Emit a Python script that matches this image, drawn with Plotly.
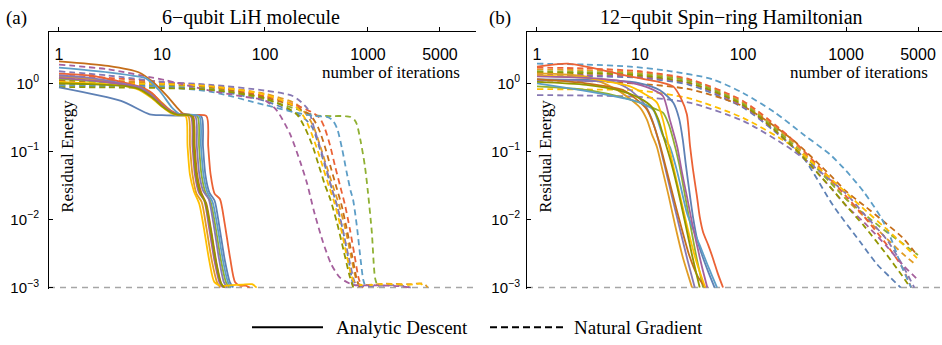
import plotly.graph_objects as go

# ---------------- palette (Mathematica default) ----------------
C_BLUE = '#5E81B5'
C_ORANGE = '#E19C24'
C_GREEN = '#8FB032'
C_RED = '#EB6235'
C_PURPLE = '#8778B3'
C_BROWN = '#C56E1A'
C_LIGHTBLUE = '#5D9EC7'
C_YELLOW = '#FFBF00'
C_MAGENTA = '#A5609D'
C_OLIVE = '#929600'

THRESHOLD = 0.001

X_TICKS = [1, 10, 100, 1000, 5000]
X_TICK_TEXT = ['1', '10', '100', '1000', '5000']
Y_TICKS = [1, 0.1, 0.01, 0.001]
Y_TICK_TEXT = ['10<sup>0</sup>', '10<sup>\u22121</sup>', '10<sup>\u22122</sup>', '10<sup>\u22123</sup>']

# ================= Panel (a): 6-qubit LiH, Analytic Descent (solid) =================
a_ad_yellow_x = [1, 2, 4, 6, 8, 10, 12, 14, 17, 17.7, 18.7, 20.4, 23, 25.5, 28.9, 32.3, 38, 45, 60, 75, 83]
a_ad_yellow_y = [1.05, 1.0, 0.93, 0.8, 0.6, 0.45, 0.37, 0.34, 0.33, 0.12, 0.045, 0.026, 0.017, 0.0075, 0.0024, 0.0012, 0.00106, 0.00108, 0.0011, 0.00112, 0.001]
a_ad_orange_x = [1, 2, 4, 6, 8, 10, 12, 14, 18, 18.7, 19.8, 21.6, 24.3, 27, 30.6, 34.2, 36.9]
a_ad_orange_y = [1.25, 1.15, 0.98, 0.86, 0.7, 0.52, 0.4, 0.35, 0.33, 0.12, 0.045, 0.024, 0.018, 0.0075, 0.0024, 0.0012, 0.001]
a_ad_magenta_x = [1, 2, 4, 6, 8, 10, 12, 14, 19, 19.8, 20.9, 22.8, 25.7, 28.5, 32.3, 36.1, 39]
a_ad_magenta_y = [1.2, 1.1, 0.96, 0.84, 0.64, 0.48, 0.39, 0.35, 0.33, 0.12, 0.045, 0.025, 0.019, 0.008, 0.0025, 0.0012, 0.001]
a_ad_olive_x = [1, 2, 4, 6, 8, 10, 12, 14, 19.5, 20.3, 21.5, 23.4, 26.3, 29.3, 33.2, 37, 40]
a_ad_olive_y = [1.0, 0.97, 0.92, 0.82, 0.62, 0.46, 0.38, 0.345, 0.33, 0.12, 0.045, 0.025, 0.018, 0.008, 0.0025, 0.0012, 0.001]
a_ad_brown_x = [1, 3, 6, 8, 11, 14, 16, 20, 20.8, 22, 24, 27, 30, 34, 38, 41]
a_ad_brown_y = [2.1, 1.8, 1.44, 1.07, 0.67, 0.44, 0.36, 0.33, 0.12, 0.045, 0.025, 0.017, 0.007, 0.0022, 0.0011, 0.001]
a_ad_purple_x = [1, 2, 4, 6, 8, 10, 12, 14, 21, 21.8, 23.1, 25.2, 28.4, 31.5, 35.7, 39.9, 43]
a_ad_purple_y = [1.3, 1.2, 1.0, 0.88, 0.66, 0.47, 0.38, 0.345, 0.33, 0.12, 0.045, 0.026, 0.02, 0.009, 0.0027, 0.0012, 0.001]
a_ad_green_x = [1, 2, 4, 6, 8, 10, 12, 14, 22, 22.9, 24.2, 26.4, 29.7, 33, 37.4, 41.8, 45.1]
a_ad_green_y = [1.15, 1.08, 0.97, 0.86, 0.68, 0.5, 0.4, 0.35, 0.33, 0.12, 0.045, 0.025, 0.018, 0.008, 0.0025, 0.0012, 0.001]
a_ad_lightblue_x = [1, 3, 6, 7, 9.5, 12.5, 15, 23, 23.9, 25.3, 27.6, 31, 34.5, 39.1, 43.7, 47.2]
a_ad_lightblue_y = [1.7, 1.45, 1.25, 1.18, 0.77, 0.44, 0.35, 0.33, 0.12, 0.045, 0.025, 0.018, 0.008, 0.0025, 0.0012, 0.001]
a_ad_blue_x = [1, 4, 7.6, 10, 15, 24, 25, 26.4, 28.8, 32.4, 36, 40.8, 45.6, 49.2]
a_ad_blue_y = [0.87, 0.55, 0.35, 0.34, 0.335, 0.33, 0.12, 0.045, 0.025, 0.019, 0.008, 0.0025, 0.0012, 0.001]
a_ad_red_x = [1, 2, 4, 6, 8, 10, 12, 14, 18, 27, 28.1, 29.7, 32.4, 36.5, 40.5, 45.9, 51.3, 58, 65, 71]
a_ad_red_y = [1.39, 1.3, 1.05, 0.9, 0.72, 0.5, 0.4, 0.36, 0.34, 0.33, 0.12, 0.045, 0.024, 0.02, 0.009, 0.0027, 0.0012, 0.00106, 0.00107, 0.001]

# ================= Panel (a): Natural Gradient (dashed) =================
a_ng_olive_x = [1, 3, 10, 30, 100, 200, 245, 290, 330, 380, 430, 500, 580, 670, 720]
a_ng_olive_y = [0.88, 0.87, 0.85, 0.8, 0.6, 0.36, 0.22, 0.12, 0.065, 0.033, 0.02, 0.009, 0.0035, 0.0014, 0.001]
a_ng_yellow_x = [1, 3, 10, 30, 100, 200, 240, 270, 320, 370, 420, 470, 540, 620, 700, 760, 1500, 2500, 3300, 3500]
a_ng_yellow_y = [1.0, 1.0, 0.98, 0.9, 0.68, 0.45, 0.32, 0.22, 0.11, 0.055, 0.03, 0.018, 0.008, 0.003, 0.0014, 0.00112, 0.00112, 0.0011, 0.00113, 0.001]
a_ng_purple_x = [1, 3, 10, 30, 100, 186, 260, 300, 340, 390, 440, 500, 570, 650, 730, 780, 2000, 2600]
a_ng_purple_y = [1.5, 1.3, 1.05, 0.95, 0.78, 0.65, 0.42, 0.22, 0.12, 0.06, 0.03, 0.016, 0.007, 0.0028, 0.0013, 0.00108, 0.00108, 0.001]
a_ng_blue_x = [1, 3, 10, 30, 100, 200, 250, 290, 340, 390, 450, 500, 570, 650, 720]
a_ng_blue_y = [0.95, 0.93, 0.9, 0.8, 0.55, 0.36, 0.29, 0.22, 0.11, 0.055, 0.027, 0.016, 0.007, 0.0025, 0.001]
a_ng_orange_x = [1, 3, 10, 30, 100, 200, 260, 300, 350, 400, 460, 520, 600, 680, 760, 820, 1500, 2500, 3500, 3800]
a_ng_orange_y = [1.2, 1.1, 1.02, 0.92, 0.7, 0.5, 0.33, 0.22, 0.11, 0.058, 0.03, 0.017, 0.0075, 0.003, 0.0014, 0.00112, 0.00114, 0.00112, 0.00114, 0.001]
a_ng_brown_x = [1, 3, 10, 30, 100, 200, 280, 330, 380, 430, 490, 550, 620, 700, 780, 830]
a_ng_brown_y = [1.1, 1.05, 0.98, 0.88, 0.62, 0.45, 0.33, 0.22, 0.12, 0.062, 0.031, 0.017, 0.0075, 0.003, 0.0013, 0.001]
a_ng_red_x = [1, 3, 10, 30, 100, 200, 300, 340, 380, 430, 480, 540, 600, 670, 740, 820, 900]
a_ng_red_y = [1.3, 1.2, 1.05, 0.9, 0.65, 0.48, 0.36, 0.31, 0.22, 0.12, 0.06, 0.03, 0.016, 0.007, 0.003, 0.0013, 0.001]
a_ng_lightblue_x = [1, 3, 10, 30, 100, 200, 300, 400, 450, 500, 560, 620, 680, 715, 780, 850, 900, 950]
a_ng_lightblue_y = [0.92, 0.9, 0.88, 0.75, 0.48, 0.37, 0.33, 0.32, 0.29, 0.22, 0.11, 0.05, 0.026, 0.02, 0.008, 0.0025, 0.0013, 0.001]
a_ng_green_x = [1, 3, 10, 30, 100, 200, 300, 450, 600, 680, 740, 780, 850, 935, 1000, 1090, 1170, 1250]
a_ng_green_y = [1.05, 1.0, 0.95, 0.85, 0.58, 0.42, 0.34, 0.33, 0.33, 0.32, 0.29, 0.25, 0.14, 0.06, 0.025, 0.0065, 0.0014, 0.001]
a_ng_magenta_x = [1, 3, 11, 27, 60, 100, 130, 175, 220, 256, 300, 365, 440, 535, 715, 1200, 2000, 2600]
a_ng_magenta_y = [1.88, 1.6, 1.1, 0.8, 0.64, 0.56, 0.4, 0.18, 0.07, 0.034, 0.013, 0.0047, 0.0022, 0.0014, 0.0011, 0.00108, 0.00105, 0.001]

# ================= Panel (b): 12-qubit spin ring, Analytic Descent (solid) =================
b_ad_red_x = [1, 2, 4, 8, 12, 16, 21, 25, 28.5, 30.6, 32.6, 35.7, 38, 41, 46, 51, 57, 64]
b_ad_red_y = [1.76, 1.94, 1.6, 1.26, 1.12, 1.03, 0.9, 0.6, 0.35, 0.12, 0.056, 0.022, 0.011, 0.0065, 0.0042, 0.0027, 0.0016, 0.001]
b_ad_blue_x = [1, 3, 5.5, 10, 15.6, 21, 24, 26, 28, 30.6, 33, 36, 40, 46, 53]
b_ad_blue_y = [1.14, 1.12, 1.1, 1.0, 0.79, 0.52, 0.3, 0.15, 0.06, 0.022, 0.01, 0.005, 0.003, 0.0017, 0.001]
b_ad_magenta_x = [1, 3, 6, 9.3, 13, 16.7, 19.5, 23, 25.5, 28.5, 32, 36, 40, 45]
b_ad_magenta_y = [1.26, 1.2, 1.1, 0.97, 0.82, 0.65, 0.29, 0.116, 0.05, 0.022, 0.009, 0.004, 0.002, 0.001]
b_ad_lightblue_x = [1, 2, 3.8, 7, 10, 13.4, 16.7, 19.5, 23, 28.5, 33, 38, 45, 50, 56]
b_ad_lightblue_y = [1.0, 0.85, 0.72, 0.6, 0.52, 0.41, 0.17, 0.116, 0.05, 0.0126, 0.007, 0.0042, 0.0022, 0.0015, 0.001]
b_ad_green_x = [1, 3, 6, 10, 14, 16.7, 19, 21, 24, 27, 31, 35, 41]
b_ad_green_y = [0.9, 0.8, 0.65, 0.52, 0.42, 0.37, 0.25, 0.15, 0.065, 0.025, 0.008, 0.003, 0.001]
b_ad_yellow_x = [1, 3, 5, 8, 11, 14.6, 16.7, 19, 22, 26, 30, 35, 43]
b_ad_yellow_y = [1.3, 1.2, 1.05, 0.9, 0.7, 0.52, 0.29, 0.12, 0.045, 0.015, 0.006, 0.0025, 0.001]
b_ad_orange_x = [1, 3, 6, 10, 11.7, 13, 14.6, 16.7, 19, 22, 26, 32]
b_ad_orange_y = [1.4, 1.25, 0.8, 0.44, 0.29, 0.18, 0.116, 0.05, 0.022, 0.008, 0.0028, 0.001]
b_ad_purple_x = [1, 2, 3, 5.5, 8, 11, 13, 15, 17, 20, 24, 29, 34]
b_ad_purple_y = [1.1, 1.1, 1.08, 1.05, 0.8, 0.5, 0.3, 0.15, 0.07, 0.025, 0.008, 0.0025, 0.001]
b_ad_brown_x = [1, 3, 6.8, 9, 11.7, 13.5, 15.5, 18, 21, 25, 30, 36, 43]
b_ad_brown_y = [1.15, 1.0, 0.8, 0.6, 0.41, 0.25, 0.13, 0.055, 0.022, 0.008, 0.003, 0.0015, 0.001]
b_ad_olive_x = [1, 3, 6, 10, 13, 15, 17, 20, 23, 27, 32, 38]
b_ad_olive_y = [1.05, 0.95, 0.8, 0.6, 0.45, 0.3, 0.16, 0.07, 0.03, 0.01, 0.003, 0.001]

# ================= Panel (b): Natural Gradient (dashed) =================
b_ng_lightblue_x = [1, 3, 8, 20, 50, 100, 200, 400, 700, 1000, 1500, 2200, 2800, 3400, 4300]
b_ng_lightblue_y = [1.94, 1.88, 1.76, 1.5, 1.15, 0.72, 0.38, 0.17, 0.09, 0.052, 0.025, 0.0105, 0.0048, 0.0022, 0.001]
b_ng_red_x = [1, 3, 10, 30, 100, 300, 700, 1000, 1500, 2500, 3500, 4300]
b_ng_red_y = [1.7, 1.65, 1.5, 1.15, 0.55, 0.15, 0.04, 0.022, 0.011, 0.0042, 0.002, 0.001]
b_ng_orange_x = [1, 3, 10, 30, 100, 300, 700, 1000, 1500, 2500, 3500, 4700]
b_ng_orange_y = [1.6, 1.55, 1.42, 1.12, 0.52, 0.14, 0.037, 0.02, 0.011, 0.0052, 0.0032, 0.0022]
b_ng_green_x = [1, 3, 10, 30, 100, 300, 700, 1000, 1500, 2500, 3500, 5000]
b_ng_green_y = [1.5, 1.46, 1.36, 1.08, 0.5, 0.13, 0.035, 0.02, 0.012, 0.0065, 0.0045, 0.003]
b_ng_olive_x = [1, 3, 10, 30, 100, 300, 700, 1000, 1500, 2500, 3500, 4200]
b_ng_olive_y = [1.45, 1.4, 1.3, 1.02, 0.48, 0.12, 0.03, 0.016, 0.008, 0.003, 0.0015, 0.001]
b_ng_brown_x = [1, 3, 10, 30, 100, 300, 700, 1000, 1500, 2500, 3500, 4900]
b_ng_brown_y = [1.1, 1.08, 0.98, 0.82, 0.46, 0.15, 0.045, 0.026, 0.016, 0.0085, 0.0055, 0.003]
b_ng_magenta_x = [1, 3, 10, 30, 100, 300, 700, 1000, 1500, 2500, 3500, 5000]
b_ng_magenta_y = [1.35, 1.32, 1.24, 1.0, 0.46, 0.12, 0.03, 0.016, 0.009, 0.004, 0.0022, 0.0013]
b_ng_blue_x = [1, 3, 10, 30, 100, 200, 380, 750, 1370, 2000, 2700, 3400]
b_ng_blue_y = [1.3, 1.27, 1.2, 0.95, 0.44, 0.2, 0.083, 0.016, 0.0047, 0.0022, 0.0014, 0.001]
b_ng_yellow_x = [1, 3, 10, 30, 100, 300, 650, 1370, 2870, 4900]
b_ng_yellow_y = [0.82, 0.81, 0.78, 0.6, 0.31, 0.12, 0.045, 0.016, 0.0059, 0.0027]
b_ng_purple_x = [1, 3, 10, 30, 100, 300, 650, 1000, 1500, 2500, 3500, 4600]
b_ng_purple_y = [0.67, 0.66, 0.63, 0.52, 0.28, 0.105, 0.042, 0.024, 0.012, 0.005, 0.0022, 0.001]

# ---------------- assemble ----------------
panel_a_solid = [
    (a_ad_blue_x, a_ad_blue_y, C_BLUE), (a_ad_orange_x, a_ad_orange_y, C_ORANGE),
    (a_ad_green_x, a_ad_green_y, C_GREEN), (a_ad_red_x, a_ad_red_y, C_RED),
    (a_ad_purple_x, a_ad_purple_y, C_PURPLE), (a_ad_brown_x, a_ad_brown_y, C_BROWN),
    (a_ad_lightblue_x, a_ad_lightblue_y, C_LIGHTBLUE), (a_ad_yellow_x, a_ad_yellow_y, C_YELLOW),
    (a_ad_magenta_x, a_ad_magenta_y, C_MAGENTA), (a_ad_olive_x, a_ad_olive_y, C_OLIVE),
]
panel_a_dashed = [
    (a_ng_blue_x, a_ng_blue_y, C_BLUE), (a_ng_orange_x, a_ng_orange_y, C_ORANGE),
    (a_ng_green_x, a_ng_green_y, C_GREEN), (a_ng_red_x, a_ng_red_y, C_RED),
    (a_ng_purple_x, a_ng_purple_y, C_PURPLE), (a_ng_brown_x, a_ng_brown_y, C_BROWN),
    (a_ng_lightblue_x, a_ng_lightblue_y, C_LIGHTBLUE), (a_ng_yellow_x, a_ng_yellow_y, C_YELLOW),
    (a_ng_magenta_x, a_ng_magenta_y, C_MAGENTA), (a_ng_olive_x, a_ng_olive_y, C_OLIVE),
]
panel_b_solid = [
    (b_ad_blue_x, b_ad_blue_y, C_BLUE), (b_ad_orange_x, b_ad_orange_y, C_ORANGE),
    (b_ad_green_x, b_ad_green_y, C_GREEN), (b_ad_red_x, b_ad_red_y, C_RED),
    (b_ad_purple_x, b_ad_purple_y, C_PURPLE), (b_ad_brown_x, b_ad_brown_y, C_BROWN),
    (b_ad_lightblue_x, b_ad_lightblue_y, C_LIGHTBLUE), (b_ad_yellow_x, b_ad_yellow_y, C_YELLOW),
    (b_ad_magenta_x, b_ad_magenta_y, C_MAGENTA), (b_ad_olive_x, b_ad_olive_y, C_OLIVE),
]
panel_b_dashed = [
    (b_ng_blue_x, b_ng_blue_y, C_BLUE), (b_ng_orange_x, b_ng_orange_y, C_ORANGE),
    (b_ng_green_x, b_ng_green_y, C_GREEN), (b_ng_red_x, b_ng_red_y, C_RED),
    (b_ng_purple_x, b_ng_purple_y, C_PURPLE), (b_ng_brown_x, b_ng_brown_y, C_BROWN),
    (b_ng_lightblue_x, b_ng_lightblue_y, C_LIGHTBLUE), (b_ng_yellow_x, b_ng_yellow_y, C_YELLOW),
    (b_ng_magenta_x, b_ng_magenta_y, C_MAGENTA), (b_ng_olive_x, b_ng_olive_y, C_OLIVE),
]

W, H = 942, 345
XR_A = [-0.097, 4.049]
XR_B = [-0.097, 3.932]
YR = [-3.02, 0.748]
DOM_A = [49 / W, 476 / W]
DOM_B = [527 / W, 1.0]
SERIF = 'Liberation Serif'
SANS = 'Liberation Sans'
LW = 1.8
DASH = '6px,4px'

fig = go.Figure()

for xa, ya, xr in (('x', 'y', XR_A), ('x2', 'y2', XR_B)):
    fig.add_trace(go.Scatter(x=[10 ** xr[0], 10 ** xr[1]], y=[THRESHOLD, THRESHOLD], mode='lines',
                             line=dict(color='#A6A6A6', width=1.5, dash='6px,5px'),
                             xaxis=xa, yaxis=ya, showlegend=False, hoverinfo='skip'))

def add_set(curves, xa, ya, dash):
    for cx, cy, col in curves:
        fig.add_trace(go.Scatter(x=cx, y=cy, mode='lines',
                                 line=dict(color=col, width=LW, dash=dash, shape='spline', smoothing=0.7),
                                 xaxis=xa, yaxis=ya, showlegend=False, hoverinfo='skip'))

add_set(panel_a_dashed, 'x', 'y', DASH)
add_set(panel_a_solid, 'x', 'y', 'solid')
add_set(panel_b_dashed, 'x2', 'y2', DASH)
add_set(panel_b_solid, 'x2', 'y2', 'solid')

# empty traces that register the tick-label overlay axes
fig.add_trace(go.Scatter(x=[], y=[], xaxis='x3', yaxis='y', showlegend=False, hoverinfo='skip'))
fig.add_trace(go.Scatter(x=[], y=[], xaxis='x4', yaxis='y2', showlegend=False, hoverinfo='skip'))

def xaxis_cfg(dom, rng, anchor):
    return dict(type='log', domain=dom, range=rng, anchor=anchor, side='top',
                showline=True, linecolor='black', linewidth=1, showgrid=False, zeroline=False,
                ticks='outside', ticklen=4, tickcolor='black', tickwidth=1,
                tickvals=X_TICKS, showticklabels=False)

def xlabel_cfg(dom, rng, over):
    return dict(type='log', domain=dom, range=rng, overlaying=over, anchor='free',
                position=1 - 65 / H, side='top', showline=False, showgrid=False, zeroline=False,
                ticks='', tickvals=X_TICKS, ticktext=X_TICK_TEXT,
                tickfont=dict(family=SANS, size=16, color='black'))

def yaxis_cfg(anchor, standoff):
    return dict(type='log', domain=[1 - 294.9 / H, 1 - 33 / H], range=YR, anchor=anchor,
                showline=True, linecolor='black', linewidth=1, showgrid=False, zeroline=False,
                ticks='inside', ticklen=4, tickcolor='black', tickwidth=1,
                tickvals=Y_TICKS, ticktext=Y_TICK_TEXT, ticklabelstandoff=standoff,
                tickfont=dict(family=SANS, size=15, color='black'))

fig.update_layout(
    width=W, height=H, margin=dict(l=0, r=0, t=0, b=0),
    paper_bgcolor='white', plot_bgcolor='white', showlegend=False,
    font=dict(family=SERIF, size=17, color='black'),
    xaxis=xaxis_cfg(DOM_A, XR_A, 'y'),
    xaxis2=xaxis_cfg(DOM_B, XR_B, 'y2'),
    xaxis3=xlabel_cfg(DOM_A, XR_A, 'x'),
    xaxis4=xlabel_cfg(DOM_B, XR_B, 'x2'),
    yaxis=yaxis_cfg('x', 6),
    yaxis2=yaxis_cfg('x2', 3),
)

def px(x):
    return x / W

def py(y):
    return 1 - y / H

ann = [
    dict(text='(a)', x=px(4), y=py(18), xanchor='left', size=19),
    dict(text='6\u2212qubit LiH molecule', x=px(251), y=py(18), xanchor='center', size=20),
    dict(text='(b)', x=px(487), y=py(18), xanchor='left', size=19),
    dict(text='12\u2212qubit Spin\u2212ring Hamiltonian', x=px(731), y=py(18), xanchor='center', size=20),
    dict(text='number of iterations', x=px(462), y=py(74), xanchor='right', size=17),
    dict(text='number of iterations', x=px(930), y=py(74), xanchor='right', size=17),
    dict(text='Residual Energy', x=px(68), y=py(160), xanchor='center', textangle=-90, size=17),
    dict(text='Residual Energy', x=px(546), y=py(160), xanchor='center', textangle=-90, size=17),
    dict(text='Analytic Descent', x=px(334), y=py(334), xanchor='left', size=19),
    dict(text='Natural Gradient', x=px(572), y=py(334), xanchor='left', size=19),
]
for a in ann:
    size = a.pop('size')
    fig.add_annotation(xref='paper', yref='paper', showarrow=False, yanchor='middle',
                       font=dict(family=SERIF, color='black', size=size), **a)

fig.add_shape(type='line', xref='paper', yref='paper', x0=px(252), x1=px(323), y0=py(334), y1=py(334),
              line=dict(color='black', width=2))
fig.add_shape(type='line', xref='paper', yref='paper', x0=px(490), x1=px(563), y0=py(334), y1=py(334),
              line=dict(color='black', width=2, dash='7px,4px'))

fig.write_html('out.html')
